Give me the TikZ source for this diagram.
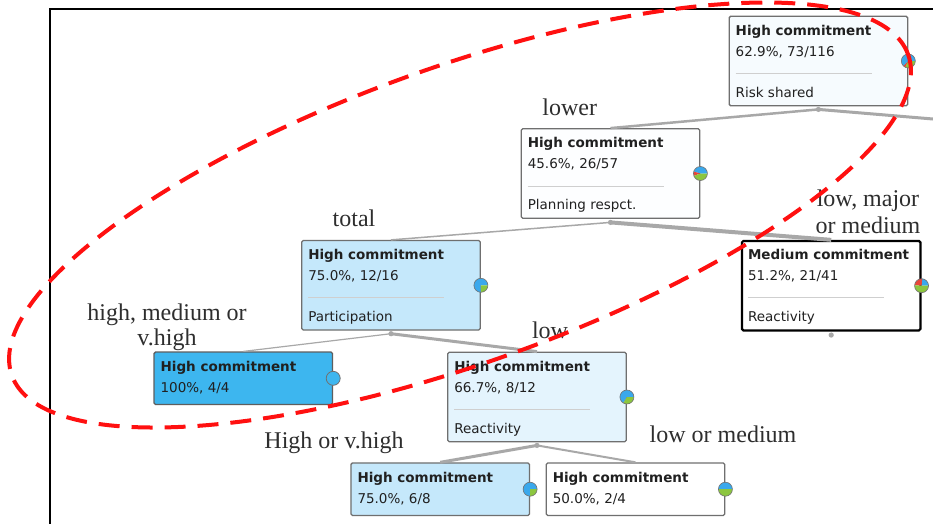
\documentclass[tikz,border=0pt]{standalone}
\usepackage{fontspec}
\setmainfont{DejaVu Sans}
\newfontfamily\lblfont{Liberation Serif}
\usetikzlibrary{calc}
\definecolor{boxgray}{HTML}{6F6F6F}
\definecolor{sepgray}{HTML}{CFCFCF}
\definecolor{edgegray}{HTML}{A8A8A8}
\definecolor{txt}{HTML}{202020}
\definecolor{lbltxt}{HTML}{2E2E2E}
\definecolor{croot}{HTML}{F6FBFE}
\definecolor{cwhite}{HTML}{FDFEFF}
\definecolor{clb}{HTML}{C5E8FB}
\definecolor{cbright}{HTML}{3DB6EF}
\definecolor{cvlb}{HTML}{E4F4FD}
\definecolor{pblue}{HTML}{3AA8EC}
\definecolor{pgreen}{HTML}{8CC63F}
\definecolor{pred}{HTML}{E8473A}
\definecolor{piegray}{HTML}{707070}
\definecolor{hired}{HTML}{FF1010}

\newcommand\splittexts[4]{%
  \node[ttl] (#1-t) at ($(#1.north west)+(7,19.5)$) {#2};
  \node[val] (#1-v) at ($(#1.north west)+(7,40.5)$) {#3};
  \draw[sepline] ($(#1.north west)+(7,58)$) -- ++(136,0);
  \node[val] (#1-a) at ($(#1.north west)+(7,81.5)$) {#4};}
\newcommand\leaftexts[3]{%
  \node[ttl] (#1-t) at ($(#1.north west)+(7,20)$) {#2};
  \node[val] (#1-v) at ($(#1.north west)+(7,41.5)$) {#3};}
\newcommand\piechart[3]{%
  \fill[pblue] (#1.east) -- ++(0:7pt) arc[start angle=0,end angle=#2,radius=7pt] -- cycle;
  \fill[pred] (#1.east) -- ++(#2:7pt) arc[start angle=#2,end angle=#3,radius=7pt] -- cycle;
  \fill[pgreen] (#1.east) -- ++(#3:7pt) arc[start angle=#3,end angle=360,radius=7pt] -- cycle;
  \draw[piegray, line width=0.6pt] (#1.east) circle[radius=7pt];}

\begin{document}
\begin{tikzpicture}[x=1pt,y=-1pt,
  box/.style={draw=boxgray, line width=1.3pt, rectangle, rounded corners=1.5pt, inner sep=0pt, minimum width=178.5pt},
  tall/.style={minimum height=89.5pt},
  short/.style={minimum height=52.5pt},
  ttl/.style={anchor=base west, inner sep=0pt, font=\fontsize{13.5}{16}\selectfont\bfseries, text=txt},
  val/.style={anchor=base west, inner sep=0pt, font=\fontsize{13.5}{16}\selectfont, text=txt},
  sepline/.style={draw=sepgray, line width=1pt},
  edge/.style={draw=edgegray, line cap=butt},
  lbl/.style={anchor=base, inner sep=0pt, font=\lblfont\fontsize{24}{28}\selectfont, text=lbltxt},
  hilite/.style={draw=hired, line width=4pt, dash pattern=on 21pt off 12pt}
]
\useasboundingbox (0,0) rectangle (933,523);
\fill[white] (0,0) rectangle (933,523);

% frame
\draw[line width=1.8pt] (50,524) -- (50,9) -- (934,9);

% boxes
\node[box, tall, fill=croot] (root) at (818.4,61) {};
\node[box, tall, fill=cwhite] (n2) at (610.5,173.5) {};
\node[box, tall, fill=clb] (n3) at (391,285.3) {};
\node[box, tall, fill=white, draw=black, line width=2.2pt] (n4) at (831.2,285.7) {};
\node[box, short, fill=cbright, draw=boxgray!85!black] (n5) at (243.3,378.3) {};
\node[box, tall, fill=cvlb] (n6) at (537,397) {};
\node[box, short, fill=clb] (n7) at (440.2,489.2) {};
\node[box, short, fill=white] (n8) at (635.5,489.2) {};

\splittexts{root}{High commitment}{62.9\%, 73/116}{Risk shared}
\splittexts{n2}{High commitment}{45.6\%, 26/57}{Planning respct.}
\splittexts{n3}{High commitment}{75.0\%, 12/16}{Participation}
\splittexts{n4}{Medium commitment}{51.2\%, 21/41}{Reactivity}
\leaftexts{n5}{High commitment}{100\%, 4/4}
\splittexts{n6}{High commitment}{66.7\%, 8/12}{Reactivity}
\leaftexts{n7}{High commitment}{75.0\%, 6/8}
\leaftexts{n8}{High commitment}{50.0\%, 2/4}

% pies
\piechart{root}{226}{245}
\piechart{n2}{164}{200}
\piechart{n3}{270}{270}
\piechart{n4}{85}{176}
\fill[cbright] (n5.east) circle[radius=7pt];
\draw[piegray, line width=0.8pt] (n5.east) circle[radius=7pt];
\piechart{n6}{240}{240}
\piechart{n7}{270}{270}
\piechart{n8}{180}{180}

% edges
\coordinate (root-b) at ($(root.south)+(0,3)$);
\coordinate (n2-b) at ($(n2.south)+(0,3.5)$);
\coordinate (n3-b) at ($(n3.south)+(0,3)$);
\coordinate (n4-b) at ($(n4.south)+(0,3.5)$);
\coordinate (n6-b) at ($(n6.south)+(0,3)$);
\coordinate (offright) at (933,119);
\draw[edge, line width=2.5pt] (root-b) -- (n2.north);
\draw[edge, line width=3pt] (root-b) -- (offright);
\draw[edge, line width=1.5pt] (n2-b) -- (n3.north);
\draw[edge, line width=4pt] (n2-b) -- (n4.north);
\draw[edge, line width=1.2pt] (n3-b) -- (n5.north);
\draw[edge, line width=3pt] (n3-b) -- (n6.north);
\draw[edge, line width=3pt] (n6-b) -- (n7.north);
\draw[edge, line width=2pt] (n6-b) -- (n8.north);
\foreach \c in {root-b,n2-b,n3-b,n4-b,n6-b} \fill[edgegray] (\c) circle[radius=2.6pt];

% labels
\node[lbl] (l-lower) at (569.7,115) {lower};
\node[lbl] (l-total) at (354,226.7) {total};
\node[lbl] (l-major1) at (868,206.7) {low, major};
\node[lbl] (l-major2) at (868,233.3) {or medium};
\node[lbl] (l-high1) at (167,320) {high, medium or};
\node[lbl] (l-high2) at (167,345) {v.high};
\node[lbl] (l-low) at (550,338.5) {low};
\node[lbl] (l-hv) at (334,448.3) {High or v.high};
\node[lbl] (l-lm) at (723,442.3) {low or medium};

% highlight ellipse
\draw[hilite, rotate around={19.7:(460,215)}] (460,215) ellipse[x radius=476, y radius=148];
\end{tikzpicture}
\end{document}
